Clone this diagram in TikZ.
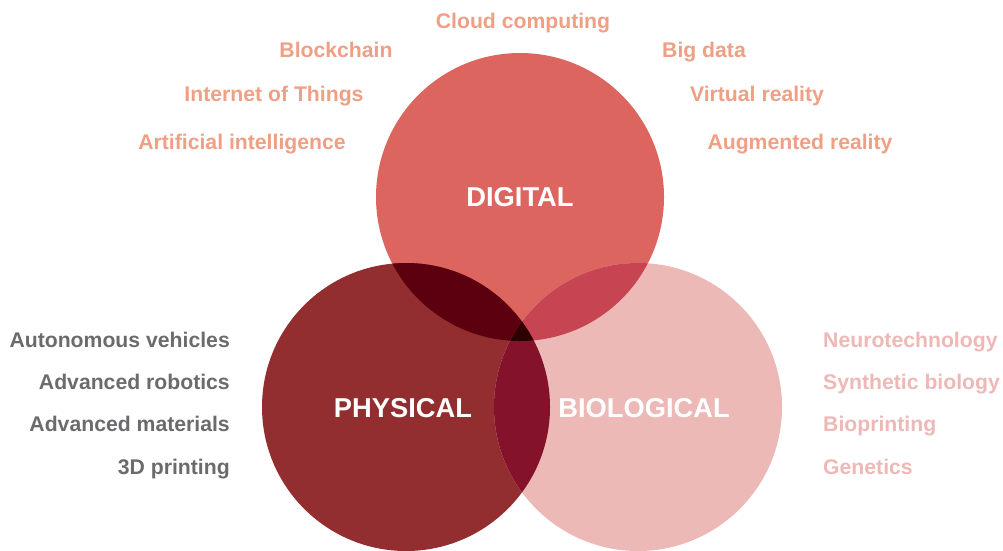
\documentclass[tikz,border=0pt]{standalone}
\usepackage{fontspec}
\setmainfont{Liberation Sans}
\definecolor{cdig}{HTML}{DD6560}
\definecolor{cphy}{HTML}{922E2F}
\definecolor{cbio}{HTML}{ECB9B7}
\definecolor{cdp}{HTML}{5C0010}
\definecolor{cdb}{HTML}{C74552}
\definecolor{cpb}{HTML}{84122A}
\definecolor{cdpb}{HTML}{300000}
\definecolor{tdig}{HTML}{EF9F84}
\definecolor{tphy}{HTML}{6B6B6D}
\definecolor{tbio}{HTML}{EDB8B6}
\tikzset{
  lbl/.style={font=\bfseries\fontsize{21.2}{24}\selectfont, inner sep=0pt, anchor=base},
  dlbl/.style={lbl, text=tdig},
  plbl/.style={lbl, text=tphy, anchor=base east},
  blbl/.style={lbl, text=tbio, anchor=base west},
  big/.style={font=\bfseries\fontsize{27.3}{30}\selectfont, text=white, inner sep=0pt, anchor=base}
}
\begin{document}
\begin{tikzpicture}[x=1pt,y=-1pt]
\useasboundingbox (0,0) rectangle (1003,550);
\coordinate (D) at (520,197);
\coordinate (P) at (406,407);
\coordinate (B) at (638,407);
\fill[cdig] (D) circle[radius=144pt];
\fill[cphy] (P) circle[radius=144pt];
\fill[cbio] (B) circle[radius=144pt];
\begin{scope}\clip (D) circle[radius=144pt]; \fill[cdp] (P) circle[radius=144pt];\end{scope}
\begin{scope}\clip (D) circle[radius=144pt]; \fill[cdb] (B) circle[radius=144pt];\end{scope}
\begin{scope}\clip (P) circle[radius=144pt]; \fill[cpb] (B) circle[radius=144pt];\end{scope}
\begin{scope}\clip (D) circle[radius=144pt]; \clip (P) circle[radius=144pt]; \fill[cdpb] (B) circle[radius=144pt];\end{scope}

\node[big] (digital) at (520,206) {DIGITAL};
\node[big] (physical) at (403,417) {PHYSICAL};
\node[big] (biological) at (644,417) {BIOLOGICAL};

\node[dlbl] (cloud) at (523,28) {Cloud computing};
\node[dlbl] (block) at (336,57) {Blockchain};
\node[dlbl] (iot) at (274,101) {Internet of Things};
\node[dlbl] (ai) at (242,149) {Artificial intelligence};
\node[dlbl] (bigdata) at (704,57) {Big data};
\node[dlbl] (vr) at (757,101) {Virtual reality};
\node[dlbl] (ar) at (800,149) {Augmented reality};

\node[plbl] (auto) at (230,347) {Autonomous vehicles};
\node[plbl] (robot) at (230,389) {Advanced robotics};
\node[plbl] (mat) at (230,431) {Advanced materials};
\node[plbl] (print) at (230,474) {3D printing};

\node[blbl] (neuro) at (823,347) {Neurotechnology};
\node[blbl] (synth) at (823,389) {Synthetic biology};
\node[blbl] (biop) at (823,431) {Bioprinting};
\node[blbl] (gen) at (823,474) {Genetics};
\end{tikzpicture}
\end{document}
